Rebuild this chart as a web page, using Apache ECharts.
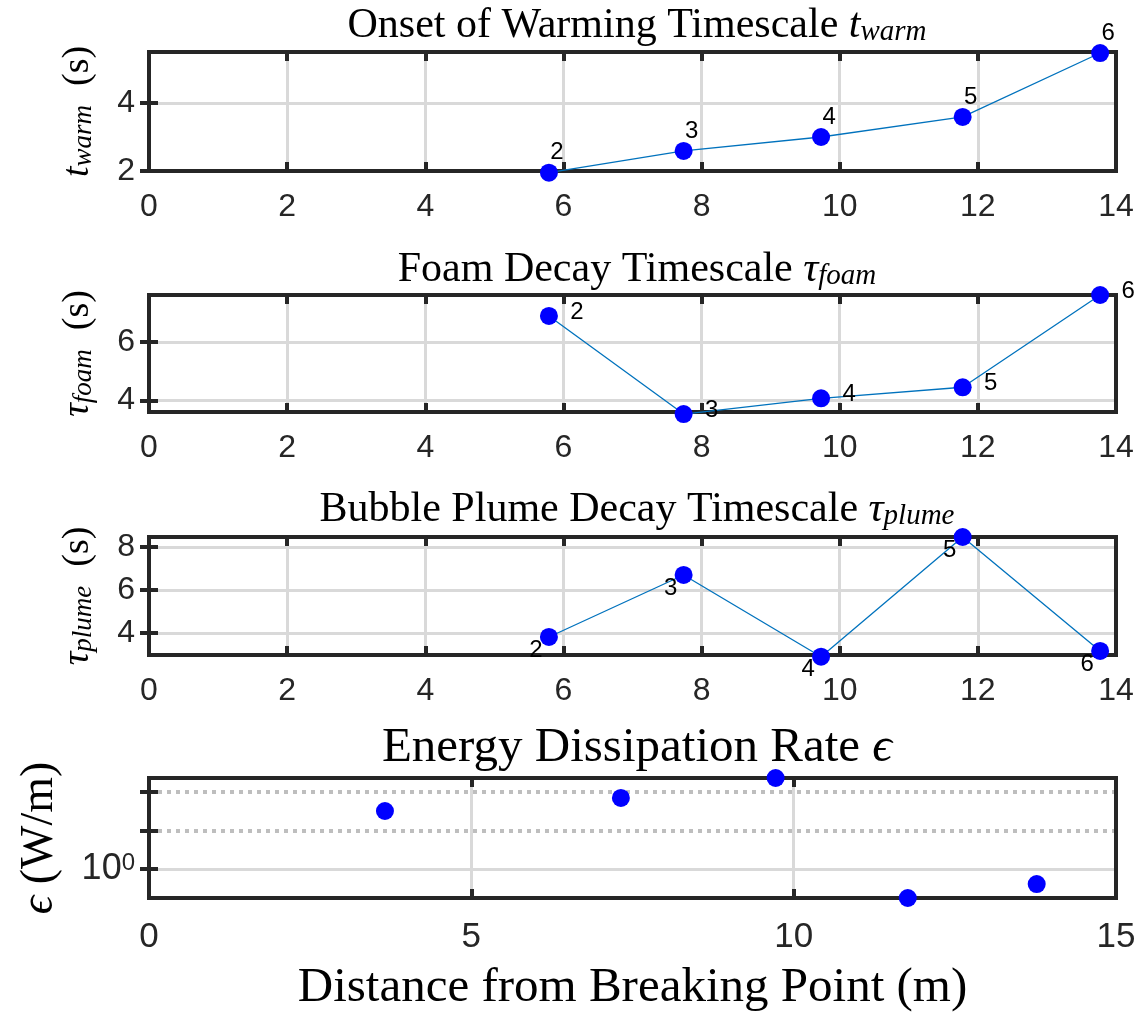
<!DOCTYPE html>
<html>
<head>
<meta charset="utf-8">
<script src="https://cdn.jsdelivr.net/npm/echarts@6/dist/echarts.min.js"></script>
<style>
  html, body { margin: 0; padding: 0; background: #fff; }
  #main { width: 1143px; height: 1014px; }
</style>
</head>
<body>
<div id="main"></div>
<script>
// distances from the breaking point (m)
var distTop = [5.79, 7.74, 9.73, 11.78, 13.77];
var distEps = [3.66, 7.32, 9.72, 11.77, 13.77];
// point ids written next to the markers
var pointIds = ['2', '3', '4', '5', '6'];
// measured values
var tWarm = [1.95, 2.59, 3.0, 3.59, 5.47];
var tauFoam = [6.9, 3.53, 4.07, 4.45, 7.62];
var tauPlume = [3.81, 6.7, 2.89, 8.47, 3.16];
var epsRate = [2.84, 3.59, 5.14, 0.594, 0.763];
// ticks
var xTicksTop = [0, 2, 4, 6, 8, 10, 12, 14];
var xTicksEps = [0, 5, 10, 15];
var yTicksWarm = [2, 4];
var yTicksFoam = [4, 6];
var yTicksPlume = [4, 6, 8];
var yTicksEps = [1];
var yMinorEps = [2, 4];

var serif = "'Liberation Serif', 'DejaVu Serif', serif";
var sans = "'Liberation Sans', 'DejaVu Sans', sans-serif";
var dark = '#262626';
var gridGray = '#d9d9d9';

function mathRich(size, subSize, subLH) {
  return {
    i: { fontFamily: serif, fontStyle: 'italic', fontSize: size, color: '#000' },
    s: { fontFamily: serif, fontStyle: 'italic', fontSize: subSize, color: '#000', verticalAlign: 'bottom', lineHeight: subLH },
    n: { fontFamily: serif, fontSize: size, color: '#000' }
  };
}

function pairs(xs, ys) {
  return xs.map(function (x, i) { return [x, ys[i]]; });
}

var panels = [
  { title: 'Onset of Warming Timescale {i|t}{s|warm}', titleTop: 0,
    yName: '{i|t}{s|warm}{n|  (s)}', x: distTop, y: tWarm,
    yMin: 2, yMax: 5.5, yTicks: yTicksWarm, labelOffset: [8, -20] },
  { title: 'Foam Decay Timescale {i|τ}{s|foam}', titleTop: 244,
    yName: '{i|τ}{s|foam}{n|  (s)}', x: distTop, y: tauFoam,
    yMin: 3.6, yMax: 7.62, yTicks: yTicksFoam, labelOffset: [28, -4] },
  { title: 'Bubble Plume Decay Timescale {i|τ}{s|plume}', titleTop: 484,
    yName: '{i|τ}{s|plume}{n|  (s)}', x: distTop, y: tauPlume,
    yMin: 2.97, yMax: 8.47, yTicks: yTicksPlume, labelOffset: [-13, 13] }
];

var gridBoxes = [
  { top: 52, height: 119 },
  { top: 295, height: 117 },
  { top: 537, height: 118 },
  { top: 778, height: 120 }
];

var option = {
  animation: false,
  backgroundColor: '#fff',
  title: [],
  grid: [],
  xAxis: [],
  yAxis: [],
  series: []
};

gridBoxes.forEach(function (b) {
  option.grid.push({
    left: 149, right: 27, top: b.top, height: b.height,
    show: true, borderColor: dark, borderWidth: 4,
    backgroundColor: 'transparent', z: 1,
    outerBoundsMode: 'none'
  });
});

function tickStyle(vals) {
  return { show: true, inside: true, length: 9, customValues: vals, lineStyle: { color: dark, width: 4 } };
}

// three upper panels
panels.forEach(function (p, g) {
  option.title.push({
    text: p.title, left: 632, top: p.titleTop, textAlign: 'center',
    textStyle: { fontFamily: serif, fontSize: 42, fontWeight: 'normal', color: '#000', rich: mathRich(42, 29, 14) }
  });
  // bottom + top x axis
  option.xAxis.push({
    gridIndex: g, type: 'value', position: 'bottom', min: 0, max: 14,
    axisLine: { show: false }, axisTick: tickStyle(xTicksTop),
    axisLabel: { customValues: xTicksTop, fontFamily: sans, fontSize: 32, color: dark, margin: 20 },
    splitLine: { show: true, lineStyle: { color: gridGray, width: 3 } }
  });
  option.xAxis.push({
    gridIndex: g, type: 'value', position: 'top', min: 0, max: 14,
    axisLine: { show: false }, axisTick: tickStyle(xTicksTop),
    axisLabel: { show: false }, splitLine: { show: false }
  });
  // left + right y axis
  option.yAxis.push({
    gridIndex: g, type: 'value', position: 'left', min: p.yMin, max: p.yMax,
    name: p.yName, nameLocation: 'middle', nameRotate: 90, nameGap: 52,
    nameTextStyle: { fontFamily: serif, fontSize: 38, color: '#000', rich: mathRich(38, 27, 14) },
    axisLine: { show: false }, axisTick: tickStyle(p.yTicks),
    axisLabel: { customValues: p.yTicks, fontFamily: sans, fontSize: 32, color: dark, margin: 14 },
    splitLine: { show: true, lineStyle: { color: gridGray, width: 3 } }
  });
  option.yAxis.push({
    gridIndex: g, type: 'value', position: 'right', min: p.yMin, max: p.yMax,
    axisLine: { show: false }, axisTick: tickStyle(p.yTicks),
    axisLabel: { show: false }, splitLine: { show: false }
  });
  option.series.push({
    type: 'line', xAxisIndex: 2 * g, yAxisIndex: 2 * g,
    data: pairs(p.x, p.y), clip: false,
    symbol: 'circle', symbolSize: 18, showAllSymbol: true,
    itemStyle: { color: '#0000ff', borderWidth: 0, opacity: 1 },
    lineStyle: { color: '#0072bd', width: 1.3 },
    label: {
      show: true, position: 'inside', offset: p.labelOffset,
      color: '#000', fontFamily: sans, fontSize: 24,
      formatter: function (q) { return pointIds[q.dataIndex]; }
    },
    z: 3
  });
});

// energy dissipation panel (log scale)
var epsMin = 0.594, epsMax = 5.14;
option.title.push({
  text: 'Energy Dissipation Rate {i|ϵ}', left: 632, top: 719, textAlign: 'center',
  textStyle: { fontFamily: serif, fontSize: 49, fontWeight: 'normal', color: '#000', rich: mathRich(49, 34, 16) }
});
option.xAxis.push({
  gridIndex: 3, type: 'value', position: 'bottom', min: 0, max: 15,
  name: 'Distance from Breaking Point (m)', nameLocation: 'middle', nameGap: 66,
  nameTextStyle: { fontFamily: serif, fontSize: 49, color: '#000' },
  axisLine: { show: false }, axisTick: tickStyle(xTicksEps),
  axisLabel: { customValues: xTicksEps, fontFamily: sans, fontSize: 35, color: dark, margin: 22 },
  splitLine: { show: true, lineStyle: { color: gridGray, width: 3 } }
});
option.xAxis.push({
  gridIndex: 3, type: 'value', position: 'top', min: 0, max: 15,
  axisLine: { show: false }, axisTick: tickStyle(xTicksEps),
  axisLabel: { show: false }, splitLine: { show: false }
});
var epsTicks = yTicksEps.concat(yMinorEps);
option.yAxis.push({
  gridIndex: 3, type: 'log', logBase: 10, position: 'left', min: epsMin, max: epsMax,
  name: '{i|ϵ}{n| (W/m)}', nameLocation: 'middle', nameRotate: 90, nameGap: 86,
  nameTextStyle: { fontFamily: serif, fontSize: 46, color: '#000', rich: mathRich(46, 32, 16) },
  axisLine: { show: false }, axisTick: tickStyle(epsTicks),
  axisLabel: {
    customValues: yTicksEps, margin: 14,
    formatter: function () { return '{b|10}{p|0}'; },
    rich: {
      b: { fontFamily: sans, fontSize: 36, color: dark },
      p: { fontFamily: sans, fontSize: 24, color: dark, verticalAlign: 'top', lineHeight: 10 }
    }
  },
  splitLine: { show: false }
});
option.yAxis.push({
  gridIndex: 3, type: 'log', logBase: 10, position: 'right', min: epsMin, max: epsMax,
  axisLine: { show: false }, axisTick: tickStyle(epsTicks),
  axisLabel: { show: false }, splitLine: { show: false }
});
option.series.push({
  type: 'scatter', xAxisIndex: 6, yAxisIndex: 6,
  data: pairs(distEps, epsRate), clip: false,
  symbolSize: 18, itemStyle: { color: '#0000ff', opacity: 1 }, z: 3,
  markLine: {
    silent: true, symbol: ['none', 'none'], label: { show: false }, z: 0,
    data: yTicksEps.map(function (v) {
      return { yAxis: v, lineStyle: { color: gridGray, width: 3, type: 'solid' } };
    }).concat(yMinorEps.map(function (v) {
      return { yAxis: v, lineStyle: { color: '#bebebe', width: 4, type: [4, 5] } };
    }))
  }
});

var chart = echarts.init(document.getElementById('main'));
chart.setOption(option);
</script>
</body>
</html>
